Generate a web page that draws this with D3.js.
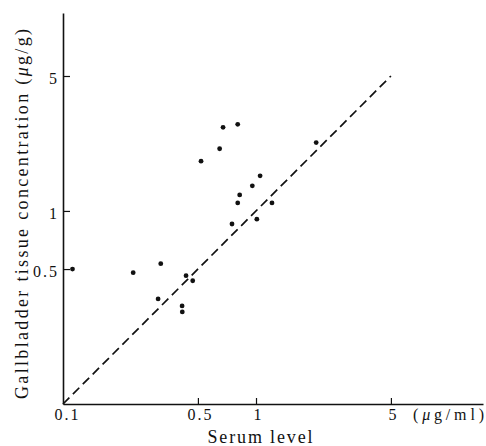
<!DOCTYPE html>
<html>
<head>
<meta charset="utf-8">
<script src="https://cdn.jsdelivr.net/npm/d3@7"></script>
<style>
  body { margin: 0; background: #fff; }
  svg text { font-family: "Liberation Serif", "DejaVu Serif", serif; fill: #111; }
</style>
</head>
<body>
<div id="chart"></div>
<script>
// serum level (ug/ml) vs gallbladder tissue concentration (ug/g)
var serum  = [0.112, 0.231, 0.321, 0.311, 0.414, 0.415, 0.434, 0.470,
              0.519, 0.648, 0.675, 0.804, 0.751, 0.804, 0.823, 0.957,
              1.01, 1.05, 1.21, 2.05];
var tissue = [0.50, 0.479, 0.533, 0.350, 0.322, 0.300, 0.462, 0.435,
              1.81, 2.10, 2.71, 2.81, 0.856, 1.10, 1.21, 1.35,
              0.906, 1.52, 1.10, 2.26];
var xTicks = [0.1, 0.5, 1, 5];
var yTicks = [0.5, 1, 5];
var diagonal = [0.1, 5];

var width = 486, height = 446;

var svg = d3.select("#chart")
    .append("svg")
    .attr("width", width)
    .attr("height", height);

var x = d3.scaleLog()
    .domain([0.1, 15])
    .range([63, 483]);
var y = d3.scaleLog()
    .domain([0.1, 10.6])
    .range([404, 13]);

var fmt = function (d) { return String(d); };

// X axis
var xAxis = d3.axisBottom(x)
    .tickValues(xTicks)
    .tickSize(-6)
    .tickSizeOuter(0)
    .tickPadding(5)
    .tickFormat(fmt);

var gx = svg.append("g")
    .attr("transform", "translate(0," + y(0.1) + ")")
    .call(xAxis);
gx.select(".domain").attr("stroke", "#111").attr("stroke-width", 1.6);
gx.selectAll(".tick line").attr("stroke", "#111").attr("stroke-width", 1.2);
gx.selectAll(".tick").filter(function (d) { return d === 0.1; }).select("line").remove();
gx.selectAll(".tick text")
    .style("font-size", "16px")
    .style("letter-spacing", "2px")
    .attr("fill", "#111")
    .attr("dx", function (d) { return d === 0.1 ? "4px" : "2px"; });

// Y axis
var yAxis = d3.axisLeft(y)
    .tickValues(yTicks)
    .tickSize(-7)
    .tickSizeOuter(0)
    .tickPadding(4)
    .tickFormat(fmt);

var gy = svg.append("g")
    .attr("transform", "translate(" + x(0.1) + ",0)")
    .call(yAxis);
gy.select(".domain").attr("stroke", "#111").attr("stroke-width", 1.6);
gy.selectAll(".tick line").attr("stroke", "#111").attr("stroke-width", 1.2);
gy.selectAll(".tick text")
    .style("font-size", "16px")
    .style("letter-spacing", "2px")
    .attr("fill", "#111")
    .attr("dy", "0.45em");

// identity line
svg.append("line")
    .attr("x1", x(diagonal[0]))
    .attr("y1", y(diagonal[0]))
    .attr("x2", x(diagonal[1]))
    .attr("y2", y(diagonal[1]))
    .attr("stroke", "#111")
    .attr("stroke-width", 1.7)
    .attr("stroke-dasharray", "9,5");

// points
svg.append("g")
    .selectAll("circle")
    .data(serum)
    .join("circle")
    .attr("cx", function (d) { return x(d); })
    .attr("cy", function (d, i) { return y(tissue[i]); })
    .attr("r", 2.4)
    .attr("fill", "#111");

// unit label on x axis
var unit = svg.append("text")
    .attr("x", 413)
    .attr("y", 420)
    .attr("textLength", 71)
    .attr("lengthAdjust", "spacing")
    .style("font-size", "16px");
unit.append("tspan").text("(");
unit.append("tspan").style("font-style", "italic").text("\u03bc");
unit.append("tspan").text("g/ml)");

// x title
svg.append("text")
    .attr("x", 260)
    .attr("y", 443)
    .attr("text-anchor", "middle")
    .attr("textLength", 105)
    .attr("lengthAdjust", "spacing")
    .style("font-size", "18px")
    .text("Serum level");

// y title
var yt = svg.append("text")
    .attr("transform", "translate(28,214) rotate(-90)")
    .attr("text-anchor", "middle")
    .attr("textLength", 370)
    .attr("lengthAdjust", "spacing")
    .style("font-size", "18px");
yt.append("tspan").text("Gallbladder tissue concentration (");
yt.append("tspan").style("font-style", "italic").text("\u03bc");
yt.append("tspan").text("g/g)");
</script>
</body>
</html>
